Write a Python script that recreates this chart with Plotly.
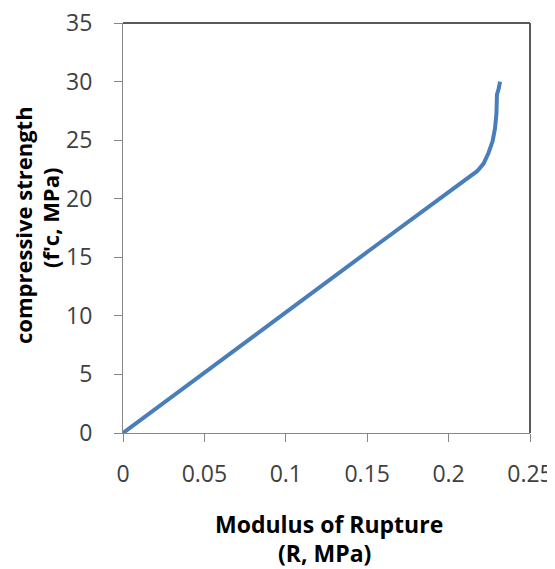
import plotly.graph_objects as go

# Data
modulus_of_rupture = [0, 0.05, 0.10, 0.15, 0.19, 0.20, 0.21, 0.2175, 0.2215, 0.2245, 0.2270, 0.2285, 0.2294, 0.2297, 0.2308, 0.2316]
compressive_strength = [0, 5.1, 10.3, 15.45, 19.5, 20.5, 21.55, 22.35, 23.0, 23.9, 24.9, 26.0, 27.3, 28.9, 29.4, 30.0]

x_title_lines = ["Modulus of Rupture", "(R, MPa)"]
y_title_lines = ["compressive strength", "(f'c, MPa)"]

FONT = "Open Sans"
AXIS_GRAY = "#868686"
BORDER_GRAY = "#595959"
TICK_COLOR = "#404040"

fig = go.Figure()
fig.add_trace(go.Scatter(
    x=modulus_of_rupture, y=compressive_strength,
    mode="lines",
    line=dict(color="#4A7EBB", width=4),
    showlegend=False, hoverinfo="skip",
))

# the page body has an 8px default margin, so the figure is sized to fit
fig.update_layout(
    width=547, height=561,
    margin=dict(l=115, r=25, t=15, b=136, autoexpand=False),
    paper_bgcolor="white", plot_bgcolor="white",
    font=dict(family=FONT, color=TICK_COLOR, size=20),
)

fig.update_xaxes(
    range=[0, 0.25], dtick=0.05, tick0=0, automargin=False,
    showgrid=False, zeroline=False,
    showline=True, linecolor=AXIS_GRAY, linewidth=1,
    ticks="outside", ticklen=8, tickcolor=AXIS_GRAY, tickwidth=1,
    tickfont=dict(family=FONT, size=23, color=TICK_COLOR),
    ticklabelstandoff=12, ticklabeloverflow="allow",
)
fig.update_yaxes(
    range=[0, 35], dtick=5, tick0=0, automargin=False,
    showgrid=False, zeroline=False,
    showline=True, linecolor=AXIS_GRAY, linewidth=1,
    ticks="outside", ticklen=8, tickcolor=AXIS_GRAY, tickwidth=1,
    tickfont=dict(family=FONT, size=23, color=TICK_COLOR),
    ticklabelstandoff=17, ticklabeloverflow="allow",
)

# top and right border of the plot area
fig.add_shape(type="line", xref="paper", yref="paper", x0=0, x1=1, y0=1, y1=1,
              line=dict(color=BORDER_GRAY, width=2))
fig.add_shape(type="line", xref="paper", yref="paper", x0=1, x1=1, y0=0, y1=1,
              line=dict(color=BORDER_GRAY, width=2))

# plot area in screenshot pixels: x 123..530, y 23..433
def px_x(p):
    return (p - 123) / 407.0

def px_y(p):
    return (433 - p) / 410.0

x_line_pos = [(329, 524), (324, 553)]
for text, (cx, cy) in zip(x_title_lines, x_line_pos):
    fig.add_annotation(text=f"<b>{text}</b>", xref="paper", yref="paper",
                       x=px_x(cx), y=px_y(cy), xanchor="center", yanchor="middle",
                       showarrow=False, font=dict(family=FONT, size=23, color="black"))

y_line_pos = [(23, 225), (50, 218)]
for text, (cx, cy) in zip(y_title_lines, y_line_pos):
    fig.add_annotation(text=f"<b>{text}</b>", xref="paper", yref="paper",
                       x=px_x(cx), y=px_y(cy), xanchor="center", yanchor="middle",
                       textangle=-90,
                       showarrow=False, font=dict(family=FONT, size=22, color="black"))

fig.write_html("out.html")
